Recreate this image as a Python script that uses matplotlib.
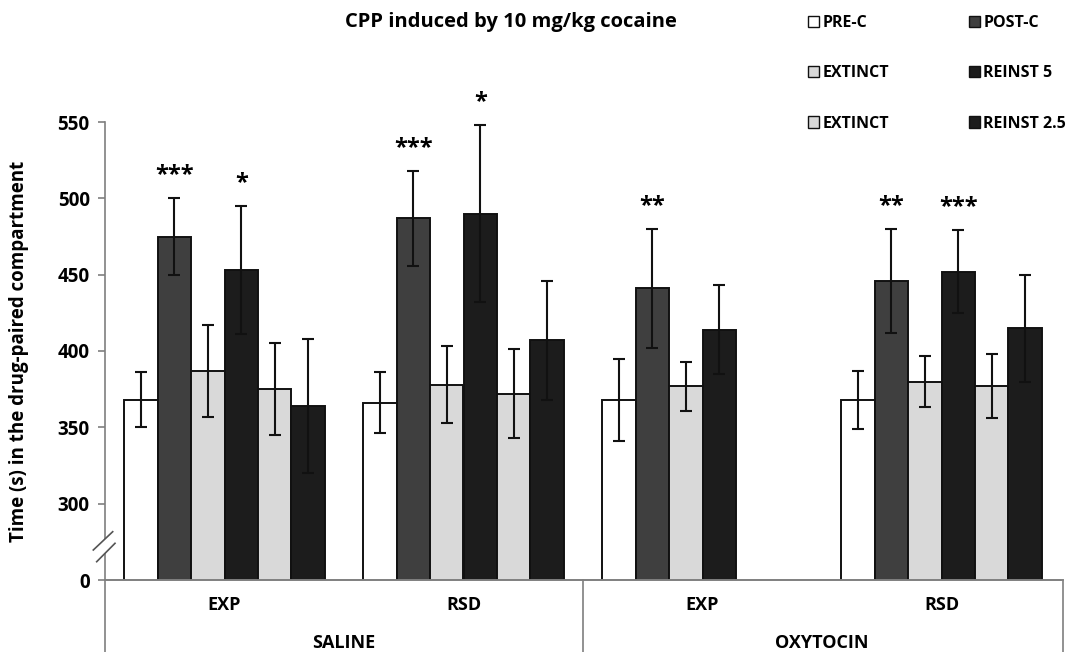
import numpy as np
import matplotlib.pyplot as plt
from matplotlib.patches import Patch, Polygon

plt.rcParams['font.family'] = ['Open Sans', 'DejaVu Sans']
plt.rcParams['font.weight'] = 'bold'

groups = ["EXP", "RSD", "EXP", "RSD"]
treatments = ["SALINE", "OXYTOCIN"]
series = ["PRE-C", "POST-C", "EXTINCT", "REINST 5", "EXTINCT", "REINST 2.5"]
colors = ["#ffffff", "#3f3f3f", "#d9d9d9", "#1c1c1c", "#d9d9d9", "#1c1c1c"]

nan = np.nan
pre_c = [368, 366, 368, 368]
pre_c_err = [18, 20, 27, 19]
post_c = [475, 487, 441, 446]
post_c_err = [25, 31, 39, 34]
extinct_a = [387, 378, 377, 380]
extinct_a_err = [30, 25, 16, 17]
reinst_5 = [453, 490, 414, 452]
reinst_5_err = [42, 58, 29, 27]
extinct_b = [375, 372, nan, 377]
extinct_b_err = [30, 29, nan, 21]
reinst_25 = [364, 407, nan, 415]
reinst_25_err = [44, 39, nan, 35]

values = [pre_c, post_c, extinct_a, reinst_5, extinct_b, reinst_25]
errors = [pre_c_err, post_c_err, extinct_a_err, reinst_5_err, extinct_b_err, reinst_25_err]

post_c_stars = ["***", "***", "**", "**"]
reinst_5_stars = ["*", "*", "", "***"]
stars = {1: post_c_stars, 3: reinst_5_stars}

yticks = [250, 300, 350, 400, 450, 500, 550]
yticklabels = ["0", "300", "350", "400", "450", "500", "550"]

fig = plt.figure(figsize=(10.72, 6.52), dpi=100)
ax = fig.add_axes([105 / 1072, 1 - 580 / 652, 956 / 1072, 458 / 652])

x = np.arange(len(groups))
width = 0.14
for i, (vals, errs, col) in enumerate(zip(values, errors, colors)):
    pos = x + (i - 2.5) * width
    ax.bar(pos, vals, width, color=col, edgecolor="#111111", linewidth=1.4, zorder=2)
    ax.errorbar(pos, vals, yerr=errs, fmt='none', ecolor="#111111",
                elinewidth=1.5, capsize=4.5, capthick=1.5, zorder=3)
    if i in stars:
        for p, v, e, s in zip(pos, vals, errs, stars[i]):
            if s:
                ax.annotate(s, (p, v + e), xytext=(0, 8), textcoords='offset points',
                            ha='center', va='bottom', fontsize=17, fontweight='bold')

ax.set_xlim(-0.5, 3.5)
ax.set_ylim(250, 550)
ax.set_yticks(yticks)
ax.set_yticklabels(yticklabels, fontsize=13.5, fontweight='bold')
ax.set_xticks([])
ax.tick_params(axis='y', length=5, width=1.2, color='#7f7f7f', pad=6)
for side in ['top', 'right']:
    ax.spines[side].set_visible(False)
for side in ['left', 'bottom']:
    ax.spines[side].set_color('#7f7f7f')
    ax.spines[side].set_linewidth(1.2)

# Category table beneath the axis
low = -0.17
line_kw = dict(transform=ax.transAxes, color='#7f7f7f', lw=1.2, clip_on=False)
ax.plot([0, 0], [0, low], **line_kw)
ax.plot([0.5, 0.5], [0, low], **line_kw)
ax.plot([1.002, 1.002], [0, low], **line_kw)
ax.plot([0, 1.002], [0, 0], **line_kw)

xt = ax.get_xaxis_transform()
for xi, g in zip(x, groups):
    ax.text(xi, -0.055, g, transform=xt, ha='center', va='center',
            fontsize=13, fontweight='bold')
for k, t in enumerate(treatments):
    ax.text(0.5 + 2 * k, -0.138, t, transform=xt, ha='center', va='center',
            fontsize=13, fontweight='bold')

# Axis break marks
def ax_pt(px, py):
    return ((px - 105) / 956, (580 - py) / 458)

gap = Polygon([ax_pt(93.3, 550), ax_pt(112.7, 531.7), ax_pt(115, 543.3), ax_pt(96.7, 561.7)],
              closed=True, transform=ax.transAxes, facecolor='white', edgecolor='none',
              clip_on=False, zorder=5)
ax.add_patch(gap)
for (a, b) in [((93.3, 550), (112.7, 531.7)), ((96.7, 561.7), (115, 543.3))]:
    p1, p2 = ax_pt(*a), ax_pt(*b)
    ax.plot([p1[0], p2[0]], [p1[1], p2[1]], transform=ax.transAxes, color='#555555',
            lw=1.2, clip_on=False, zorder=6)

ax.set_ylabel("Time (s) in the drug-paired compartment", fontsize=13.5, fontweight='bold')
ax.yaxis.set_label_coords(-76 / 956, 0.5)

fig.text(511 / 1072, 1 - 22 / 652, "CPP induced by 10 mg/kg cocaine", ha='center', va='center',
         fontsize=14.5, fontweight='bold')

# Legend: rows pair PRE-C/POST-C, EXTINCT/REINST 5, EXTINCT/REINST 2.5
handles = [Patch(facecolor=c, edgecolor='#111111', linewidth=1.0) for c in colors]
order = [0, 2, 4, 1, 3, 5]
fig.legend([handles[i] for i in order], [series[i] for i in order], ncol=2,
           loc='upper left', bbox_to_anchor=(808 / 1072, 1 - 15 / 652), frameon=False,
           fontsize=11.5, handlelength=0.7, handleheight=0.7, handletextpad=0.2,
           labelspacing=2.15, columnspacing=5.0, borderaxespad=0, borderpad=0)

fig.savefig("out.png", dpi=100)
